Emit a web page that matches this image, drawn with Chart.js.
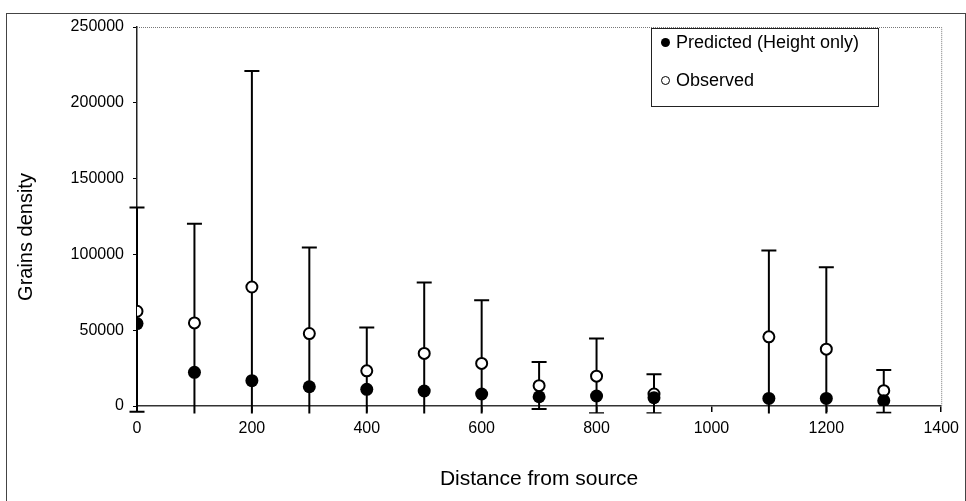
<!DOCTYPE html>
<html>
<head>
<meta charset="utf-8">
<script src="https://cdn.jsdelivr.net/npm/chart.js@4.4.1/dist/chart.umd.min.js"></script>
<style>
  body { margin: 0; background: #fff; }
  #wrap { position: relative; width: 966px; height: 501px; overflow: hidden; font-family: "Liberation Sans", Arial, sans-serif; }
  #chart { position: absolute; left: 0; top: 0; }
  #frame { position: absolute; left: 6px; top: 13px; width: 958px; height: 520px;
           border: 1px solid #444; border-bottom: none; pointer-events: none; }
  #ytitle { position: absolute; left: 25px; top: 237px; transform: translate(-50%, -50%) rotate(-90deg);
            font-size: 20px; white-space: nowrap; color: #000; }
  #legend { position: absolute; left: 651px; top: 28px; width: 226px; height: 77px;
            border: 1px solid #222; background: #fff; font-size: 18px; color: #000; }
  .item { position: absolute; left: 9px; display: flex; align-items: center; white-space: nowrap; }
  .dot { width: 9px; height: 9px; border-radius: 50%; background: #000; margin-right: 6px; box-sizing: border-box; }
  .ring { background: #fff; border: 1.5px solid #000; }
</style>
</head>
<body>
<div id="wrap">
  <canvas id="chart" width="966" height="501"></canvas>
  <div id="frame"></div>
  <div id="ytitle">Grains density</div>
  <div id="legend">
    <div class="item" style="top:3px"><span class="dot"></span>Predicted (Height only)</div>
    <div class="item" style="top:41px"><span class="dot ring"></span>Observed</div>
  </div>
</div>
<script>
// Data
const distances = [0, 100, 200, 300, 400, 500, 600, 700, 800, 900, 1100, 1200, 1300];
const predicted = [54400, 22200, 16700, 12700, 11000, 9900, 7900, 6100, 6600, 5500, 5000, 5000, 3500];
const observed  = [62500, 54800, 78500, 47800, 23200, 34700, 28100, 13400, 19700, 7900, 45600, 37500, 10100];
// error bar ends on the observed series
const obsHigh = [131000, 120200, 221000, 104500, 51800, 81400, 69700, 29100, 44500, 21000, 102500, 91600, 23700];
const obsLow  = [-3800, -10600, -64000, -8400, -6000, -12000, -13500, -2000, -4800, -4800, -10800, -16600, -4400];
const xTicks = [0, 200, 400, 600, 800, 1000, 1200, 1400];
const yTicks = [0, 50000, 100000, 150000, 200000, 250000];

const FONT = "'Liberation Sans', Arial, sans-serif";
const errClip = -5000; // bars are cut a little below the axis

// Plot frame (dotted top/right) + error bars under the markers
const errorBars = {
  id: 'errorBars',
  beforeDatasetsDraw(chart) {
    const { ctx, chartArea: a, scales: { x, y } } = chart;
    ctx.save();
    ctx.strokeStyle = '#777';
    ctx.lineWidth = 1;
    ctx.setLineDash([1, 1]);
    ctx.beginPath();
    ctx.moveTo(a.left, a.top + 0.5);
    ctx.lineTo(a.right + 0.5, a.top + 0.5);
    ctx.lineTo(a.right + 0.5, a.bottom);
    ctx.stroke();
    ctx.setLineDash([]);

    ctx.beginPath();
    ctx.rect(a.left - 12, a.top, a.right - a.left + 24, y.getPixelForValue(errClip) - a.top);
    ctx.clip();
    ctx.strokeStyle = '#000';
    ctx.lineWidth = 2;
    distances.forEach((d, i) => {
      const px = x.getPixelForValue(d);
      const hi = y.getPixelForValue(obsHigh[i]);
      const lo = y.getPixelForValue(obsLow[i]);
      ctx.beginPath();
      ctx.moveTo(px, hi); ctx.lineTo(px, lo);
      ctx.moveTo(px - 7.5, hi); ctx.lineTo(px + 7.5, hi);
      ctx.moveTo(px - 7.5, lo); ctx.lineTo(px + 7.5, lo);
      ctx.stroke();
    });
    ctx.restore();
  }
};

new Chart(document.getElementById('chart'), {
  type: 'scatter',
  data: {
    datasets: [{
      label: 'Predicted (Height only)',
      data: distances.map((d, i) => ({ x: d, y: predicted[i] })),
      pointStyle: 'circle',
      pointRadius: 6.5,
      backgroundColor: '#000',
      borderColor: '#000',
      borderWidth: 0
    }, {
      label: 'Observed',
      data: distances.map((d, i) => ({ x: d, y: observed[i] })),
      pointStyle: 'circle',
      pointRadius: 5.5,
      backgroundColor: '#fff',
      borderColor: '#000',
      borderWidth: 2
    }]
  },
  options: {
    responsive: false,
    devicePixelRatio: 1,
    animation: false,
    layout: { padding: { left: 0, top: 27, right: 22, bottom: 0 } },
    plugins: { legend: { display: false }, tooltip: { enabled: false } },
    scales: {
      x: {
        type: 'linear',
        min: 0, max: 1400,
        afterBuildTicks: s => { s.ticks = xTicks.map(v => ({ value: v })); },
        afterFit: s => { s.height = 95; },
        grid: { drawOnChartArea: false, tickLength: 6, color: '#000', lineWidth: 1.5 },
        border: { color: '#333', width: 1.5 },
        ticks: { color: '#000', padding: 7, font: { family: FONT, size: 16 }, callback: v => String(v), maxRotation: 0 },
        title: { display: true, text: 'Distance from source', color: '#000',
                 font: { family: FONT, size: 21 }, padding: { top: 0, bottom: 9 } }
      },
      y: {
        min: 0, max: 250000,
        afterBuildTicks: s => { s.ticks = yTicks.map(v => ({ value: v })); },
        afterFit: s => { s.width = 137; },
        grid: { drawOnChartArea: false, tickLength: 4, color: '#000', lineWidth: 1 },
        border: { color: '#222', width: 1.5 },
        ticks: { color: '#000', padding: 9, font: { family: FONT, size: 16 }, callback: v => String(v) }
      }
    }
  },
  plugins: [errorBars]
});
</script>
</body>
</html>
